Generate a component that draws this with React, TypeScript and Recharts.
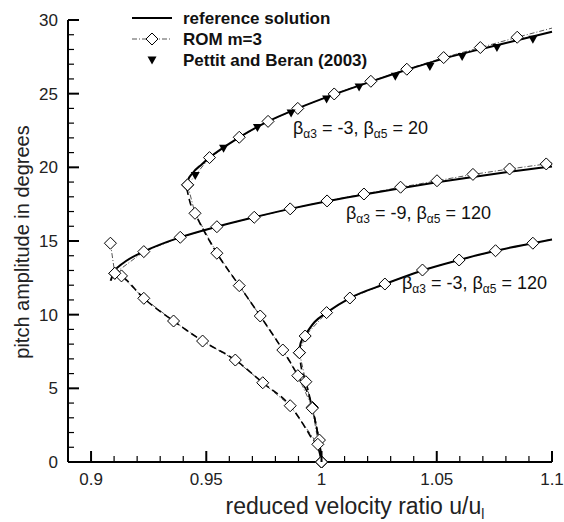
import { ComposedChart, Line, Scatter, XAxis, YAxis } from 'recharts';

document.body.style.margin = '0';

type P = { x: number; y: number };
const pts = (a: number[][]): P[] => a.map(([x, y]) => ({ x, y }));

// tick values
const X_TICKS = [0.9, 0.91, 0.92, 0.93, 0.94, 0.95, 0.96, 0.97, 0.98, 0.99, 1, 1.01, 1.02, 1.03, 1.04, 1.05, 1.06, 1.07, 1.08, 1.09, 1.1];
const X_MAJOR = [0.9, 0.95, 1, 1.05, 1.1];
const Y_TICKS = [0, 1, 2, 3, 4, 5, 6, 7, 8, 9, 10, 11, 12, 13, 14, 15, 16, 17, 18, 19, 20, 21, 22, 23, 24, 25, 26, 27, 28, 29, 30];
const Y_MAJOR = [0, 5, 10, 15, 20, 25, 30];

// beta3 = -3, beta5 = 20
const ref1Upper = pts([[0.9415, 18.6], [0.942, 19.1], [0.944, 19.6], [0.948, 20.2], [0.9514, 20.66], [0.9575, 21.35], [0.9643, 22.04], [0.9768, 23.12], [0.9897, 24.0], [1.0055, 24.95], [1.0214, 25.82], [1.037, 26.62], [1.053, 27.38], [1.0689, 28.02], [1.0849, 28.62], [1.1, 29.2]]);
const ref1Lower = pts([[0.9415, 18.6], [0.943, 17.6], [0.9451, 16.88], [0.9546, 14.17], [0.9643, 11.97], [0.9734, 9.91], [0.9832, 7.6], [0.9897, 5.86], [0.996, 3.71], [0.9984, 1.9], [0.9995, 0.9], [1.0, 0]]);
const rom1Upper = pts([[0.9419, 18.81], [0.9514, 20.66], [0.9643, 22.04], [0.9768, 23.12], [0.9897, 24.0], [1.0055, 24.98], [1.0214, 25.84], [1.037, 26.66], [1.053, 27.45], [1.0689, 28.13], [1.0849, 28.83]]);
const rom1End = pts([[1.1, 29.45]]);
const rom1Lower = pts([[0.9419, 18.81], [0.9451, 16.88], [0.9546, 14.17], [0.9643, 11.97], [0.9734, 9.91], [0.9832, 7.6], [0.9897, 5.86], [0.996, 3.71], [0.9991, 1.49], [1.0, 0]]);
const pettit = pts([[0.9452, 19.45], [0.9575, 21.3], [0.9722, 22.7], [0.9868, 23.69], [1.0022, 24.63], [1.0163, 25.46], [1.032, 26.18], [1.047, 26.84], [1.061, 27.52], [1.0761, 28.13], [1.0917, 28.7]]);

// beta3 = -9, beta5 = 120
const ref2Upper = pts([[0.9085, 12.3], [0.91, 12.9], [0.914, 13.5], [0.9229, 14.28], [0.9387, 15.25], [0.9546, 15.97], [0.9708, 16.61], [0.9864, 17.18], [1.0024, 17.7], [1.0184, 18.15], [1.0343, 18.58], [1.0501, 18.98], [1.0657, 19.35], [1.0816, 19.7], [1.1, 20.05]]);
const ref2Lower = pts([[0.91, 12.9], [0.9132, 12.63], [0.9229, 11.11], [0.9358, 9.57], [0.9484, 8.21], [0.9626, 6.92], [0.9745, 5.38], [0.9864, 3.82], [0.995, 1.8], [0.999, 0.7], [1.0, 0]]);
const rom2Upper = pts([[0.9103, 12.81], [0.9229, 14.28], [0.9387, 15.25], [0.9546, 15.97], [0.9708, 16.61], [0.9864, 17.18], [1.0024, 17.72], [1.0184, 18.19], [1.0343, 18.65], [1.0501, 19.09], [1.0657, 19.52], [1.0816, 19.89], [1.0975, 20.23]]);
const rom2End = pts([[1.1, 20.3]]);
const rom2Lower = pts([[0.9084, 14.85], [0.9103, 12.81], [0.9132, 12.63], [0.9229, 11.11], [0.9358, 9.57], [0.9484, 8.21], [0.9626, 6.92], [0.9745, 5.38], [0.9864, 3.82], [0.9984, 1.2], [1.0, 0]]);

// beta3 = -3, beta5 = 120
const ref3Upper = pts([[0.9903, 7.5], [0.991, 8.1], [0.9929, 8.6], [0.997, 9.5], [1.0022, 10.14], [1.0123, 11.13], [1.0275, 12.08], [1.0438, 13.0], [1.0597, 13.71], [1.0755, 14.34], [1.0917, 14.85], [1.1, 15.1]]);
const ref3Lower = pts([[0.9903, 7.5], [0.991, 6.6], [0.9932, 5.45], [0.996, 3.65], [0.9985, 1.8], [0.9997, 0.6], [1.0, 0]]);
const rom3Upper = pts([[0.9904, 7.42], [0.9929, 8.55], [1.0022, 10.14], [1.0123, 11.13], [1.0275, 12.08], [1.0438, 13.03], [1.0597, 13.71], [1.0755, 14.34], [1.0917, 14.85]]);
const rom3End = pts([[1.1, 15.12]]);
const rom3Lower = pts([[0.9904, 7.42], [0.9932, 5.45], [0.996, 3.65], [1.0, 0]]);

const FONT = '"Liberation Sans", Arial, Helvetica, sans-serif';

const isMajor = (v: number, list: number[]) => list.some((m) => Math.abs(m - v) < 1e-6);

const XTick = (props: any) => {
  const { x, y, payload } = props;
  const ay = y - 10;
  const major = isMajor(payload.value, X_MAJOR);
  return (
    <g>
      <line x1={x} x2={x} y1={ay} y2={ay - (major ? 11 : 6)} stroke="#000" strokeWidth={major ? 2 : 1.2} />
      {major && (
        <text x={x} y={y} dy="0.75em" textAnchor="middle" fontSize={17} fontFamily={FONT} fill="#222">
          {String(payload.value)}
        </text>
      )}
    </g>
  );
};

const YTick = (props: any) => {
  const { x, y, payload } = props;
  const ax = x + 10;
  const major = isMajor(payload.value, Y_MAJOR);
  return (
    <g>
      <line x1={ax} x2={ax + (major ? 11 : 6)} y1={y} y2={y} stroke="#000" strokeWidth={major ? 2 : 1.2} />
      {major && (
        <text x={x} y={y} dy="0.36em" textAnchor="end" fontSize={17} fontFamily={FONT} fill="#222">
          {String(payload.value)}
        </text>
      )}
    </g>
  );
};

const Diamond = (props: any) => {
  const { cx, cy } = props;
  if (cx == null || cy == null) return null;
  const r = 6;
  return <path d={`M${cx},${cy - r}L${cx + r},${cy}L${cx},${cy + r}L${cx - r},${cy}Z`} fill="#fff" stroke="#000" strokeWidth={1} />;
};

const TriDown = (props: any) => {
  const { cx, cy } = props;
  if (cx == null || cy == null) return null;
  return <path d={`M${cx - 4.5},${cy - 3.5}L${cx + 4.5},${cy - 3.5}L${cx},${cy + 4.5}Z`} fill="#000" />;
};

const solid = { type: 'monotone' as const, stroke: '#000', strokeWidth: 2, dot: false, isAnimationActive: false, dataKey: 'y' };
const dashed = { ...solid, strokeWidth: 1.6, strokeDasharray: '7 4' };
const rom = { type: 'linear' as const, stroke: '#555', strokeWidth: 1, strokeDasharray: '5 2 1 2', dot: false, isAnimationActive: false, dataKey: 'y' };

function Beta({ x, y, b3, b5 }: { x: number; y: number; b3: string; b5: string }) {
  return (
    <text x={x} y={y} fontSize={18} fontFamily={FONT} fill="#111">
      β<tspan fontSize={12} dy={4}>α3</tspan>
      <tspan dy={-4}>{` = ${b3}, β`}</tspan>
      <tspan fontSize={12} dy={4}>α5</tspan>
      <tspan dy={-4}>{` = ${b5}`}</tspan>
    </text>
  );
}

export default function App() {
  return (
    <div style={{ position: 'relative', width: 564, height: 522, background: '#fff' }}>
      <ComposedChart width={564} height={522} margin={{ top: 20, right: 12, bottom: 0, left: 0 }}>
        <XAxis
          dataKey="x"
          type="number"
          domain={[0.89, 1.1]}
          ticks={X_TICKS}
          interval={0}
          height={60}
          tickSize={0}
          tickMargin={10}
          tick={<XTick />}
          axisLine={{ stroke: '#000', strokeWidth: 2 }}
        />
        <YAxis
          type="number"
          domain={[0, 30]}
          ticks={Y_TICKS}
          interval={0}
          width={68}
          tickSize={0}
          tickMargin={10}
          tick={<YTick />}
          axisLine={{ stroke: '#000', strokeWidth: 2 }}
        />
        <Line data={rom1Lower} {...rom} />
        <Line data={[...rom1Upper, ...rom1End]} {...rom} />
        <Line data={rom2Lower} {...rom} />
        <Line data={[...rom2Upper, ...rom2End]} {...rom} />
        <Line data={rom3Lower} {...rom} />
        <Line data={[...rom3Upper, ...rom3End]} {...rom} />
        <Line data={ref1Lower} {...dashed} />
        <Line data={ref2Lower} {...dashed} />
        <Line data={ref3Lower} {...dashed} />
        <Line data={ref1Upper} {...solid} />
        <Line data={ref2Upper} {...solid} />
        <Line data={ref3Upper} {...solid} />
        <Scatter data={rom1Lower} dataKey="y" shape={<Diamond />} isAnimationActive={false} />
        <Scatter data={rom2Lower} dataKey="y" shape={<Diamond />} isAnimationActive={false} />
        <Scatter data={rom3Lower} dataKey="y" shape={<Diamond />} isAnimationActive={false} />
        <Scatter data={rom1Upper} dataKey="y" shape={<Diamond />} isAnimationActive={false} />
        <Scatter data={rom2Upper} dataKey="y" shape={<Diamond />} isAnimationActive={false} />
        <Scatter data={rom3Upper} dataKey="y" shape={<Diamond />} isAnimationActive={false} />
        <Scatter data={pettit} dataKey="y" shape={<TriDown />} isAnimationActive={false} />
      </ComposedChart>
      <svg width={564} height={522} style={{ position: 'absolute', left: 0, top: 0, pointerEvents: 'none' }}>
        <g fontFamily={FONT}>
          <line x1={132} x2={172} y1={18} y2={18} stroke="#000" strokeWidth={2} />
          <line x1={132} x2={172} y1={39} y2={39} stroke="#555" strokeWidth={1} strokeDasharray="5 2 1 2" />
          <Diamond cx={152} cy={39} />
          <TriDown cx={152} cy={60} />
          <text x={183} y={18} dy="0.36em" fontSize={17} fontWeight="bold" fill="#111">reference solution</text>
          <text x={183} y={39} dy="0.36em" fontSize={17} fontWeight="bold" fill="#111">ROM m=3</text>
          <text x={183} y={60} dy="0.36em" fontSize={17} fontWeight="bold" fill="#111">Pettit and Beran (2003)</text>
          <Beta x={293} y={134} b3="-3" b5="20" />
          <Beta x={346} y={219} b3="-9" b5="120" />
          <Beta x={402} y={289} b3="-3" b5="120" />
          <text x={22} y={242} transform="rotate(-90 22 242)" textAnchor="middle" dy="0.36em" fontSize={20} fill="#222">
            pitch amplitude in degrees
          </text>
          <text x={355} y={506} textAnchor="middle" dy="0.36em" fontSize={23} fill="#222">
            reduced velocity ratio u/u<tspan fontSize={14} dy={5}>l</tspan>
          </text>
        </g>
      </svg>
    </div>
  );
}
